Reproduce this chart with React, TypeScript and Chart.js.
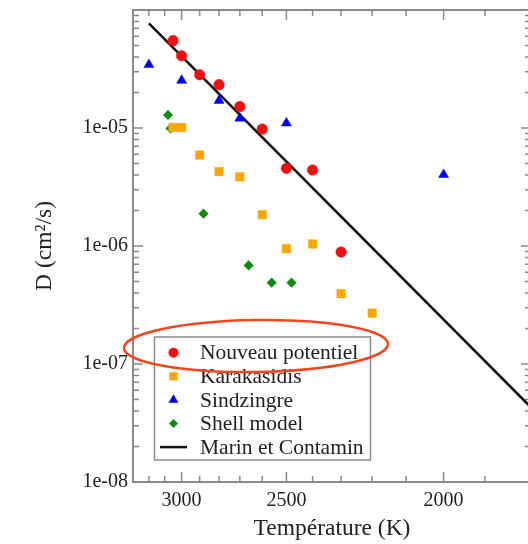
import React, { useEffect, useRef } from 'react';
import { Chart, registerables } from 'chart.js';
import { drawPoint } from 'chart.js/helpers';

Chart.register(...registerables);

// ---- Data (temperature in K, diffusion coefficient in cm^2/s) ----
const nouveauT = [3050, 3000, 2900, 2800, 2700, 2600, 2500, 2400, 2300];
const nouveauD = [5.5e-5, 4.1e-5, 2.83e-5, 2.33e-5, 1.52e-5, 9.8e-6, 4.55e-6, 4.4e-6, 8.9e-7];

const karakT = [3050, 3000, 2900, 2800, 2700, 2600, 2500, 2400, 2300, 2200];
const karakD = [1.01e-5, 1.01e-5, 5.9e-6, 4.27e-6, 3.85e-6, 1.84e-6, 9.5e-7, 1.04e-6, 3.94e-7, 2.7e-7];

const sindT = [3200, 3000, 2800, 2700, 2500, 2000];
const sindD = [3.44e-5, 2.53e-5, 1.71e-5, 1.21e-5, 1.1e-5, 4.02e-6];

const shellT = [3080, 3065, 2880, 2660, 2560, 2480];
const shellD = [1.29e-5, 9.9e-6, 1.88e-6, 6.85e-7, 4.89e-7, 4.89e-7];

const marinT = [3200, 1800];
const marinD = [7.7e-5, 4.3e-8];

const seriesNames = ['Nouveau potentiel', 'Karakasidis', 'Sindzingre', 'Shell model', 'Marin et Contamin'];

// ---- Axis ticks ----
const xTickT = [3000, 2500, 2000];
const xTickLabels = ['3000', '2500', '2000'];
const xMinorT = [3300, 3200, 3100, 2900, 2800, 2700, 2600, 2400, 2300, 2200, 2100, 1900, 1800];
const yTickValues = [1e-8, 1e-7, 1e-6, 1e-5];
const yTickLabels = ['1e-08', '1e-07', '1e-06', '1e-05'];
const yDecades = [1e-8, 1e-7, 1e-6, 1e-5];
const yMinorMult = [2, 3, 4, 5, 6, 7, 8, 9];

const FONT = '"Liberation Serif", "Times New Roman", serif';
const TEXT = '#222222';
const AXIS = '#8a8a8a';

const toPts = (T: number[], D: number[]) => T.map((t, i) => ({ x: 1e4 / t, y: D[i] }));

const framePlugin = {
  id: 'frameTicks',
  beforeDatasetsDraw(chart: any) {
    const { ctx, chartArea: a, scales } = chart;
    const xs = scales.x;
    const ys = scales.y;
    ctx.save();
    ctx.strokeStyle = AXIS;
    ctx.lineWidth = 1.5;
    ctx.beginPath();
    const xt = (T: number, len: number) => {
      const p = xs.getPixelForValue(1e4 / T);
      if (p < a.left + 1 || p > a.right - 1) return;
      ctx.moveTo(p, a.bottom);
      ctx.lineTo(p, a.bottom - len);
      ctx.moveTo(p, a.top);
      ctx.lineTo(p, a.top + len);
    };
    xTickT.forEach((T) => xt(T, 10));
    xMinorT.forEach((T) => xt(T, 6));
    const yt = (v: number, len: number) => {
      const p = ys.getPixelForValue(v);
      if (p < a.top + 1 || p > a.bottom - 1) return;
      ctx.moveTo(a.left, p);
      ctx.lineTo(a.left + len, p);
      ctx.moveTo(a.right, p);
      ctx.lineTo(a.right - len, p);
    };
    yTickValues.forEach((v) => yt(v, 10));
    yDecades.forEach((d) => yMinorMult.forEach((m) => yt(d * m, 6)));
    ctx.stroke();
    ctx.lineWidth = 2;
    ctx.strokeRect(a.left, a.top, a.right - a.left, a.bottom - a.top);
    ctx.restore();
  },
};

const legendPlugin = {
  id: 'innerLegend',
  afterDatasetsDraw(chart: any) {
    const { ctx } = chart;
    const bx = 154.5, by = 337, bw = 216, bh = 123;
    ctx.save();
    ctx.fillStyle = '#ffffff';
    ctx.fillRect(bx, by, bw, bh);
    ctx.strokeStyle = AXIS;
    ctx.lineWidth = 1.5;
    ctx.strokeRect(bx, by, bw, bh);
    chart.data.datasets.forEach((ds: any, i: number) => {
      const y = 352.7 + i * 23.6;
      const mx = 173.5;
      if (ds.showLine) {
        ctx.strokeStyle = ds.borderColor;
        ctx.lineWidth = 2.5;
        ctx.beginPath();
        ctx.moveTo(160, y);
        ctx.lineTo(187, y);
        ctx.stroke();
      } else {
        ctx.fillStyle = ds.backgroundColor;
        ctx.strokeStyle = ds.backgroundColor;
        ctx.lineWidth = 0.5;
        drawPoint(ctx, { pointStyle: ds.pointStyle, radius: ds.pointRadius * 0.9, rotation: 0, borderWidth: 0.5 } as any, mx, y);
      }
      ctx.fillStyle = TEXT;
      ctx.font = `21.5px ${FONT}`;
      ctx.textBaseline = 'middle';
      ctx.textAlign = 'left';
      ctx.fillText(ds.label, 200, y + 1);
    });
    ctx.restore();
  },
};

const ellipsePlugin = {
  id: 'redEllipse',
  afterDraw(chart: any) {
    const { ctx } = chart;
    ctx.save();
    ctx.strokeStyle = '#f2461e';
    ctx.lineWidth = 2.5;
    ctx.beginPath();
    ctx.ellipse(256, 346, 132, 26, -0.015, 0, Math.PI * 2);
    ctx.stroke();
    ctx.restore();
  },
};

export default function App() {
  const ref = useRef<HTMLCanvasElement | null>(null);
  useEffect(() => {
    if (!ref.current) return;
    const chart = new Chart(ref.current, {
      type: 'scatter',
      data: {
        datasets: [
          {
            label: seriesNames[0],
            data: toPts(nouveauT, nouveauD),
            pointStyle: 'circle',
            pointRadius: 5.3,
            backgroundColor: '#f01010',
            borderColor: '#f01010',
            borderWidth: 0.5,
          },
          {
            label: seriesNames[1],
            data: toPts(karakT, karakD),
            pointStyle: 'rect',
            pointRadius: 6,
            backgroundColor: '#ffa500',
            borderColor: '#ffa500',
            borderWidth: 0.5,
          },
          {
            label: seriesNames[2],
            data: toPts(sindT, sindD),
            pointStyle: 'triangle',
            pointRadius: 5.8,
            backgroundColor: '#0000f0',
            borderColor: '#0000f0',
            borderWidth: 0.5,
          },
          {
            label: seriesNames[3],
            data: toPts(shellT, shellD),
            pointStyle: 'rectRot',
            pointRadius: 4.8,
            backgroundColor: '#118a11',
            borderColor: '#118a11',
            borderWidth: 0.5,
          },
          {
            label: seriesNames[4],
            data: toPts(marinT, marinD),
            showLine: true,
            pointRadius: 0,
            borderColor: '#111111',
            backgroundColor: '#111111',
            borderWidth: 2.5,
          } as any,
        ],
      },
      options: {
        animation: false,
        responsive: false,
        devicePixelRatio: 1,
        layout: { padding: { left: 0, right: 9, top: 10, bottom: 0 } },
        plugins: { legend: { display: false }, tooltip: { enabled: false } },
        scales: {
          x: {
            type: 'linear',
            min: 3.024,
            max: 5.556,
            grid: { display: false, drawTicks: false },
            border: { display: false },
            ticks: {
              font: { family: FONT, size: 20 },
              color: TEXT,
              padding: 7,
              maxRotation: 0,
              autoSkip: false,
              callback: (_v: any, i: number) => xTickLabels[i],
            },
            afterBuildTicks: (s: any) => {
              s.ticks = xTickT.map((T) => ({ value: 1e4 / T }));
            },
            afterFit: (s: any) => {
              s.height = 62;
              s.paddingLeft = 0;
              s.paddingRight = 0;
            },
            title: {
              display: true,
              text: 'Température (K)',
              font: { family: FONT, size: 23.5 },
              color: TEXT,
              padding: { top: 0, bottom: 1 },
            },
          },
          y: {
            type: 'logarithmic',
            min: 1e-8,
            max: 1e-4,
            grid: { display: false, drawTicks: false },
            border: { display: false },
            ticks: {
              font: { family: FONT, size: 20 },
              color: TEXT,
              padding: 5,
              autoSkip: false,
              callback: (_v: any, i: number) => yTickLabels[i],
            },
            afterBuildTicks: (s: any) => {
              s.ticks = yTickValues.map((v) => ({ value: v }));
            },
            afterFit: (s: any) => {
              s.width = 133;
              s.paddingTop = 0;
              s.paddingBottom = 0;
            },
            title: {
              display: true,
              text: 'D (cm²/s)',
              font: { family: FONT, size: 23.5 },
              color: TEXT,
              padding: { top: 31, bottom: 0 },
            },
          },
        },
      } as any,
      plugins: [framePlugin, legendPlugin, ellipsePlugin],
    });
    return () => chart.destroy();
  }, []);

  return (
    <div
      style={{
        position: 'fixed',
        left: 0,
        top: 0,
        width: 528,
        height: 544,
        overflow: 'hidden',
        background: '#ffffff',
      }}
    >
      <canvas ref={ref} width={540} height={544} style={{ display: 'block', width: 540, height: 544 }} />
    </div>
  );
}
